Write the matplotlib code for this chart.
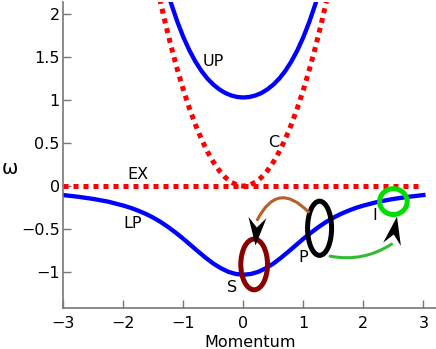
import matplotlib
matplotlib.use('Agg')
import matplotlib.pyplot as plt
import numpy as np
from matplotlib.patches import Ellipse
from matplotlib.markers import MarkerStyle
from matplotlib.path import Path
from matplotlib.transforms import Affine2D
from matplotlib.ticker import FuncFormatter

# lower polariton branch
lp_momentum = [-3.0, -2.75, -2.5, -2.25, -2.0, -1.875, -1.75, -1.625, -1.5, -1.375, -1.25, -1.125,
               -1.0, -0.875, -0.75, -0.625, -0.5, -0.375, -0.25, -0.125, 0.0,
               0.125, 0.25, 0.375, 0.5, 0.625, 0.75, 0.875, 1.0, 1.125, 1.25,
               1.375, 1.5, 1.625, 1.75, 1.875, 2.0, 2.25, 2.5, 2.75, 3.0]
lp_energy = [-0.104, -0.124, -0.149, -0.181, -0.226, -0.253, -0.286, -0.323, -0.367, -0.418, -0.477, -0.542,
             -0.612, -0.687, -0.762, -0.834, -0.900, -0.954, -0.996, -1.021, -1.030,
             -1.021, -0.996, -0.954, -0.900, -0.834, -0.762, -0.687, -0.612, -0.542, -0.477,
             -0.418, -0.367, -0.323, -0.286, -0.253, -0.226, -0.181, -0.149, -0.124, -0.104]

# upper polariton branch
up_momentum = [-1.3, -1.2, -1.1, -1.0, -0.9, -0.8, -0.7, -0.6, -0.5, -0.4, -0.3, -0.2, -0.1, 0.0,
               0.1, 0.2, 0.3, 0.4, 0.5, 0.6, 0.7, 0.8, 0.9, 1.0, 1.1, 1.2, 1.3]
up_energy = [2.345, 2.115, 1.911, 1.732, 1.579, 1.449, 1.340, 1.251, 1.180, 1.124, 1.082, 1.053, 1.036, 1.030,
             1.036, 1.053, 1.082, 1.124, 1.180, 1.251, 1.340, 1.449, 1.579, 1.732, 1.911, 2.115, 2.345]

# bare cavity (C) and exciton (EX)
cavity_momentum = [-1.5, -1.4, -1.3, -1.2, -1.1, -1.0, -0.9, -0.8, -0.7, -0.6, -0.5, -0.4, -0.3,
                   -0.2, -0.1, 0.0, 0.1, 0.2, 0.3, 0.4, 0.5, 0.6, 0.7, 0.8, 0.9, 1.0, 1.1,
                   1.2, 1.3, 1.4, 1.5]
cavity_energy = [2.520, 2.195, 1.893, 1.613, 1.355, 1.120, 0.907, 0.717, 0.549, 0.403, 0.280, 0.179, 0.101,
                 0.045, 0.011, 0.0, 0.011, 0.045, 0.101, 0.179, 0.280, 0.403, 0.549, 0.717, 0.907, 1.120, 1.355,
                 1.613, 1.893, 2.195, 2.520]
exciton_momentum = [-3.0, 3.0]
exciton_energy = [0.0, 0.0]

branch_names = ['UP', 'C', 'EX', 'LP']
branch_label_k = [-0.5, 0.51, -1.75, -1.84]
branch_label_w = [1.45, 0.51, 0.13, -0.44]

# signal, pump, idler states
state_names = ['S', 'P', 'I']
state_k = [0.18, 1.27, 2.50]
state_w = [-0.91, -0.49, -0.18]
state_label_k = [-0.18, 0.995, 2.195]
state_label_w = [-1.18, -0.83, -0.34]

# scattering arrows: start, end of line, arrow tip
brown_arrow = [(1.083, -0.30), (0.235, -0.39), (0.195, -0.69)]
green_arrow = [(1.445, -0.814), (2.47, -0.674), (2.557, -0.337)]

x_ticks = [-3, -2, -1, 0, 1, 2, 3]
y_ticks = [-1, -0.5, 0, 0.5, 1, 1.5, 2]


def draw_head(ax, base, tip, color='black'):
	(bx, by), (tx, ty) = ax.transData.transform([base, tip])
	angle = np.degrees(np.arctan2(ty - by, tx - bx)) - 90
	head = Path([(0, 14), (9, -14), (0, -4), (-9, -14), (0, 14)],
				[Path.MOVETO, Path.LINETO, Path.LINETO, Path.LINETO, Path.CLOSEPOLY])
	marker = MarkerStyle(head, transform=Affine2D().rotate_deg(angle))
	ax.plot([(base[0] + tip[0]) / 2], [(base[1] + tip[1]) / 2], marker=marker, ms=20.2,
			color=color, mew=0, zorder=6)


fig = plt.figure(figsize=(4.36, 3.49), dpi=100)
ax = fig.add_axes([0.1452, 0.1166, 0.8548, 0.8777])
ax.set_xlim(-3, 3.21)
ax.set_ylim(-1.42, 2.14)

ax.plot(cavity_momentum, cavity_energy, color='red', lw=3.6, linestyle=(0, (1, 1)))
ax.plot(exciton_momentum, exciton_energy, color='red', lw=3.6, linestyle=(0, (1, 1)))
ax.plot(up_momentum, up_energy, color='blue', lw=3.1, solid_joinstyle='round')
ax.plot(lp_momentum, lp_energy, color='blue', lw=3.1, solid_joinstyle='round')

for name, k, w in zip(branch_names, branch_label_k, branch_label_w):
	ax.text(k, w, name, fontsize=11.5, ha='center', va='center')

state_colors = ['#880000', 'black', '#00dd00']
state_widths = [0.445, 0.40, 0.46]
state_heights = [0.59, 0.63, 0.30]
for k, w, c, ew, eh in zip(state_k, state_w, state_colors, state_widths, state_heights):
	ax.add_patch(Ellipse((k, w), ew, eh, fill=False, edgecolor=c, lw=3.6, zorder=4))

for name, k, w in zip(state_names, state_label_k, state_label_w):
	ax.text(k, w, name, fontsize=11.5, ha='center', va='center')

# curved arrow bodies, heads drawn on top in black
ax.annotate('', xy=brown_arrow[1], xytext=brown_arrow[0],
			arrowprops=dict(arrowstyle='-', connectionstyle='arc3,rad=0.7', color='#b5602a',
							lw=2.2, shrinkA=0, shrinkB=0), zorder=5)
ax.annotate('', xy=green_arrow[1], xytext=green_arrow[0],
			arrowprops=dict(arrowstyle='-', connectionstyle='arc3,rad=0.2', color='#33bb33',
							lw=2.2, shrinkA=0, shrinkB=0), zorder=5)
draw_head(ax, (0.228, -0.357), brown_arrow[2])
draw_head(ax, green_arrow[1], green_arrow[2])

for side in ['top', 'right']:
	ax.spines[side].set_visible(False)
for side in ['left', 'bottom']:
	ax.spines[side].set_color('#777777')
	ax.spines[side].set_linewidth(1.2)

ax.set_xticks(x_ticks)
ax.set_yticks(y_ticks)
ax.yaxis.set_major_formatter(FuncFormatter(lambda v, _: f'{v:g}'.replace('-', '\u2212')))
ax.tick_params(direction='in', length=5.8, width=1, color='#777777', labelsize=11.5)
ax.tick_params(axis='x', pad=5.5)
ax.tick_params(axis='y', pad=2.5)

ax.set_xlabel('Momentum', fontsize=11.5, labelpad=3)
ax.set_ylabel('ω', fontsize=14, rotation=0, ha='center', va='center')
ax.yaxis.set_label_coords(-0.143, 0.455)

fig.savefig('out.png', dpi=100)
